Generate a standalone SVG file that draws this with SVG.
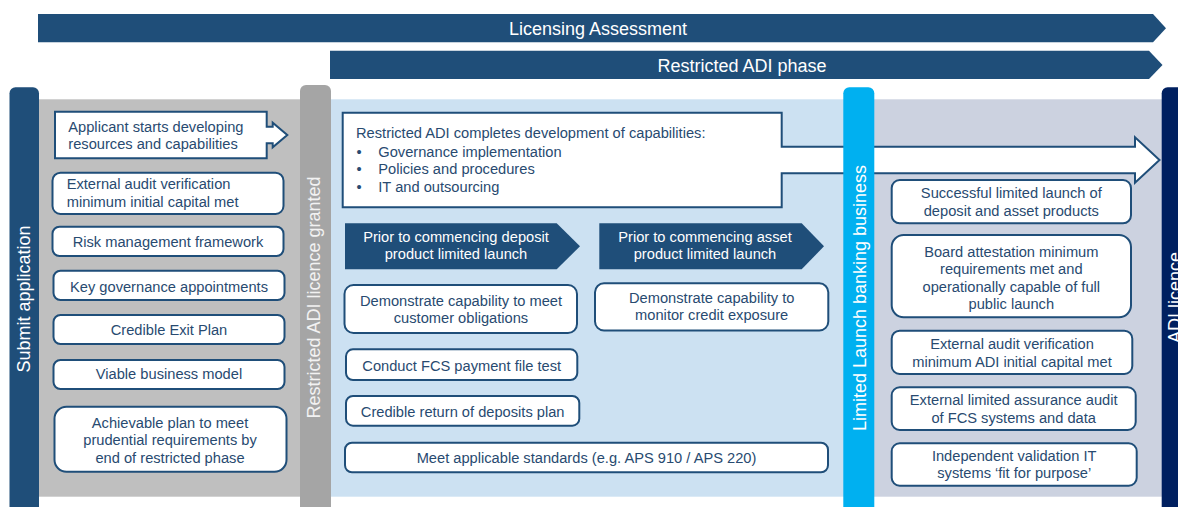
<svg xmlns="http://www.w3.org/2000/svg" width="1178" height="507" viewBox="0 0 1178 507">
<style>
text{font-family:"Liberation Sans",Arial,sans-serif;}
.t{font-size:14.67px;fill:#284A70;}
.c{text-anchor:middle;}
.w{fill:#FFFFFF;}
.box{fill:#FFFFFF;stroke:#1F4E79;stroke-width:2;}
.ban{fill:#1F4E79;}
.bt{font-size:18px;fill:#FFFFFF;text-anchor:middle;}
.vt{font-size:18px;fill:#FFFFFF;text-anchor:middle;}
.chev{fill:#1F4E79;}
.ct{font-size:14.67px;fill:#FFFFFF;text-anchor:middle;}
</style>
<rect width="1178" height="507" fill="#FFFFFF"/>

<g id="banner-licensing">
<polygon class="ban" points="38,14 1153,14 1166,28.2 1153,42.3 38,42.3"/>
<text class="bt" x="598" y="35">Licensing Assessment</text>
</g>
<g id="banner-restricted">
<polygon class="ban" points="330,50.7 1149,50.7 1162.5,64.9 1149,79 330,79"/>
<text class="bt" x="742" y="72">Restricted ADI phase</text>
</g>

<g id="panels">
<rect x="39" y="99.3" width="261" height="397.4" fill="#BFBFBF"/>
<rect x="331" y="99.3" width="513" height="397.4" fill="#CCE1F2"/>
<rect x="874" y="99.3" width="288" height="397.4" fill="#CCD2E0"/>
</g>

<g id="node-restricted-completes">
<path class="box" d="M342.7,112.7 H781.7 V146.7 H1135 V137.3 L1159.5,160 L1135,182.7 V173.3 H781.7 V207.3 H342.7 Z"/>
<text class="t" x="356" y="138.3">Restricted ADI completes development of capabilities:</text>
<text class="t" x="356.5" y="156.7">•</text><text class="t" x="378.3" y="156.7">Governance implementation</text>
<text class="t" x="356.5" y="174.3">•</text><text class="t" x="378.3" y="174.3">Policies and procedures</text>
<text class="t" x="356.5" y="191.7">•</text><text class="t" x="378.3" y="191.7">IT and outsourcing</text>
</g>

<g id="bar-submit">
<rect x="9.5" y="87.3" width="29.5" height="440" rx="6" fill="#1F4E79"/>
<text class="vt" transform="translate(29.5,299) rotate(-90)">Submit application</text>
</g>
<g id="bar-restricted-granted">
<rect x="300" y="85" width="31" height="440" rx="6" fill="#A5A5A5"/>
<text class="vt" style="fill:#F2F2F2" transform="translate(319.6,297.5) rotate(-90)">Restricted ADI licence granted</text>
</g>
<g id="bar-limited-launch">
<rect x="843.3" y="87.3" width="31" height="440" rx="6" fill="#00B0F0"/>
<text class="vt" transform="translate(866,298) rotate(-90)">Limited Launch banking business</text>
</g>
<g id="bar-adi-licence">
<rect x="1161.7" y="87.3" width="40" height="440" rx="6" fill="#002060"/>
<text class="vt" transform="translate(1181,297.5) rotate(-90)">ADI licence</text>
</g>

<g id="node-applicant">
<path class="box" d="M55,111.7 H266.7 V126.7 H272.7 V122.7 L287.3,135 L272.7,147.3 V143.3 H266.7 V158.3 H55 Z"/>
<text class="t" x="68.3" y="131.7">Applicant starts developing</text>
<text class="t" x="68.3" y="148.8">resources and capabilities</text>
</g>
<g id="node-ext-audit-min">
<rect class="box" x="52.5" y="172.7" width="231" height="41.3" rx="8"/>
<text class="t" x="66.7" y="189">External audit verification</text>
<text class="t" x="66.7" y="207">minimum initial capital met</text>
</g>
<g id="node-risk">
<rect class="box" x="52.5" y="226.7" width="231" height="29.3" rx="7"/>
<text class="t c" x="168" y="247">Risk management framework</text>
</g>
<g id="node-key-gov">
<rect class="box" x="53.5" y="270.7" width="231" height="29.3" rx="7"/>
<text class="t c" x="169" y="291.5">Key governance appointments</text>
</g>
<g id="node-exit">
<rect class="box" x="53.5" y="315" width="231" height="29" rx="7"/>
<text class="t c" x="169" y="335">Credible Exit Plan</text>
</g>
<g id="node-viable">
<rect class="box" x="53.5" y="360" width="231" height="29" rx="7"/>
<text class="t c" x="169" y="379.3">Viable business model</text>
</g>
<g id="node-achievable">
<rect class="box" x="54.5" y="406.7" width="232" height="65" rx="12"/>
<text class="t c" x="170" y="427.5">Achievable plan to meet</text>
<text class="t c" x="170" y="445.3">prudential requirements by</text>
<text class="t c" x="170" y="463">end of restricted phase</text>
</g>

<g id="node-prior-deposit">
<polygon class="chev" points="345,223.3 556.7,223.3 580,246.3 556.7,269.3 345,269.3"/>
<text class="ct" x="456" y="241.7">Prior to commencing deposit</text>
<text class="ct" x="456" y="259.3">product limited launch</text>
</g>
<g id="node-prior-asset">
<polygon class="chev" points="599.3,223.3 801.7,223.3 824,246.3 801.7,269.3 599.3,269.3"/>
<text class="ct" x="705" y="241.7">Prior to commencing asset</text>
<text class="ct" x="705" y="259.3">product limited launch</text>
</g>
<g id="node-demo-customer">
<rect class="box" x="344.5" y="285" width="232.5" height="48" rx="9"/>
<text class="t c" x="461" y="305.7">Demonstrate capability to meet</text>
<text class="t c" x="461" y="323.3">customer obligations</text>
</g>
<g id="node-demo-credit">
<rect class="box" x="595" y="283.3" width="233.3" height="47.2" rx="9"/>
<text class="t c" x="711.7" y="302.7">Demonstrate capability to</text>
<text class="t c" x="711.7" y="320">monitor credit exposure</text>
</g>
<g id="node-fcs-test">
<rect class="box" x="346" y="349.3" width="231.3" height="30.7" rx="7"/>
<text class="t c" x="461.7" y="371">Conduct FCS payment file test</text>
</g>
<g id="node-return-deposits">
<rect class="box" x="346" y="396" width="233.3" height="29.7" rx="7"/>
<text class="t c" x="462.7" y="416.7">Credible return of deposits plan</text>
</g>
<g id="node-standards">
<rect class="box" x="345" y="442.7" width="483" height="29.6" rx="7"/>
<text class="t c" x="586.5" y="463.3">Meet applicable standards (e.g. APS 910 / APS 220)</text>
</g>

<g id="node-successful">
<rect class="box" x="891.7" y="180" width="239.3" height="43.3" rx="8"/>
<text class="t c" x="1011.3" y="198.3">Successful limited launch of</text>
<text class="t c" x="1011.3" y="215.7">deposit and asset products</text>
</g>
<g id="node-board">
<rect class="box" x="891.7" y="235" width="239.3" height="82.3" rx="12"/>
<text class="t c" x="1011.3" y="256.7">Board attestation minimum</text>
<text class="t c" x="1011.3" y="274.3">requirements met and</text>
<text class="t c" x="1011.3" y="291.7">operationally capable of full</text>
<text class="t c" x="1011.3" y="309">public launch</text>
</g>
<g id="node-ext-audit-adi">
<rect class="box" x="891.7" y="330.7" width="240.6" height="43.3" rx="8"/>
<text class="t c" x="1012" y="349.3">External audit verification</text>
<text class="t c" x="1012" y="367.3">minimum ADI initial capital met</text>
</g>
<g id="node-ext-limited">
<rect class="box" x="891.7" y="387.3" width="244" height="42.7" rx="8"/>
<text class="t c" x="1013.7" y="405">External limited assurance audit</text>
<text class="t c" x="1013.7" y="422.7">of FCS systems and data</text>
</g>
<g id="node-independent">
<rect class="box" x="891.7" y="443.3" width="245" height="42.4" rx="8"/>
<text class="t c" x="1014.2" y="460.7">Independent validation IT</text>
<text class="t c" x="1014.2" y="478.3">systems ‘fit for purpose’</text>
</g>

<g id="connectors"/>
</svg>
